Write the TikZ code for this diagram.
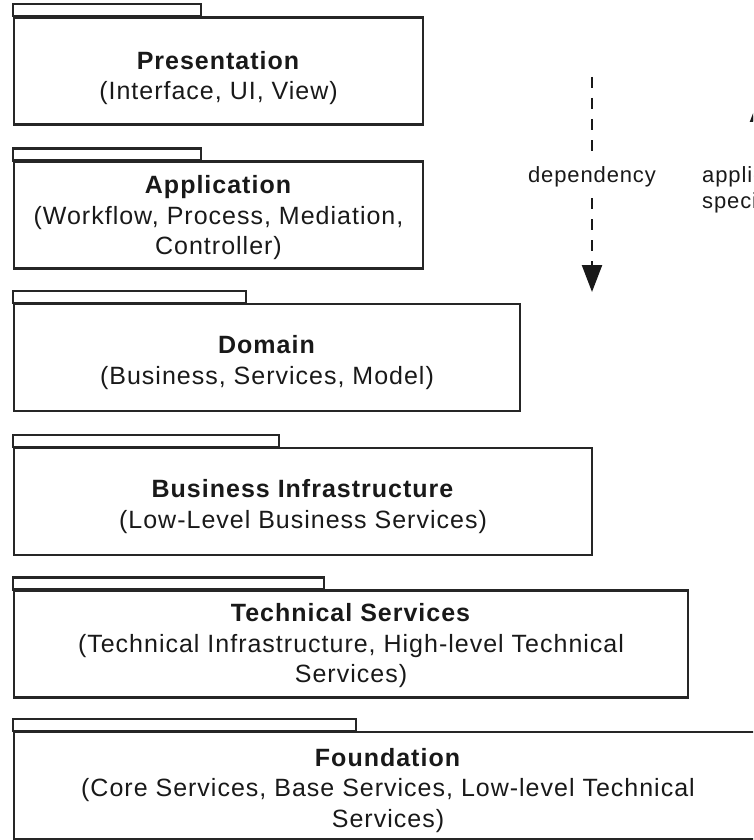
\documentclass[tikz,border=0pt]{standalone}
\usepackage{fontspec}
\setmainfont{Liberation Sans}[LetterSpace=4]
\usetikzlibrary{arrows.meta}

\tikzset{
	layer/.style={draw=black!85, line width=2.2pt, minimum height=107},
	layertext/.style={align=center, text=black!90, font=\fontsize{25}{30.5}\selectfont},
	tab/.style={draw=black!85, line width=2.2pt},
	note/.style={text=black!90, font=\fontsize{22}{26}\selectfont},
	depline/.style={black!90, line width=2.4pt, dash pattern=on 11pt off 10pt}
}

\begin{document}
\begin{tikzpicture}[x=1pt,y=-1pt]
	\useasboundingbox (0,0) rectangle (753,840);
	\clip (0,0) rectangle (753,840);
	% the layers
	\node[layer, minimum width=409] (Pres) at (218.5,71) {};
	\node[layer, minimum width=409] (Appl) at (218.5,215) {};
	\node[layer, minimum width=506] (Dom) at (267,357.5) {};
	\node[layer, minimum width=578] (BInf) at (303,501.5) {};
	\node[layer, minimum width=674] (TSrv) at (351,644) {};
	\node[layer, minimum width=748] (Found) at (388,785.5) {};
	% the tabs
	\draw[tab] (Pres.north west) rectangle ++(188,-12);
	\draw[tab] (Appl.north west) rectangle ++(188,-12);
	\draw[tab] (Dom.north west) rectangle ++(233,-12);
	\draw[tab] (BInf.north west) rectangle ++(266,-12);
	\draw[tab] (TSrv.north west) rectangle ++(311,-12);
	\draw[tab] (Found.north west) rectangle ++(343,-12);
	% the texts
	\node[layertext] (PresTxt) at ([yshift=-7pt]Pres) {\textbf{Presentation}\\(Interface, UI, View)};
	\node[layertext] (ApplTxt) at ([yshift=-3pt]Appl) {\textbf{Application}\\(Workflow, Process, Mediation,\\Controller)};
	\node[layertext] (DomTxt) at ([yshift=-5pt]Dom) {\textbf{Domain}\\(Business, Services, Model)};
	\node[layertext] (BInfTxt) at ([yshift=-5pt]BInf) {\textbf{Business Infrastructure}\\(Low-Level Business Services)};
	\node[layertext] (TSrvTxt) at ([yshift=-2pt]TSrv) {\textbf{Technical Services}\\(Technical Infrastructure, High-level Technical\\Services)};
	\node[layertext] (FoundTxt) at ([yshift=-5pt]Found) {\textbf{Foundation}\\(Core Services, Base Services, Low-level Technical\\Services)};
	% arrows on the right
	\node[note, minimum height=42, inner sep=0] (DepLbl) at (592,177) {dependency};
	\coordinate (DepTop) at (592,77);
	\coordinate (DepTip) at (592,292);
	\draw[depline] (DepTop) -- (DepLbl);
	\draw[depline, -{Triangle[width=20pt,length=27pt]}] (DepLbl) -- (DepTip);
	\node[note, anchor=west, align=left, inner sep=0] (AppLbl) at (702,190) {application\\specific};
	\coordinate (AppBot) at (760,300);
	\coordinate (AppTip) at (760,95);
	\draw[black!90, line width=2.2pt, -{Triangle[width=20pt,length=27pt]}] (AppBot) -- (AppTip);
\end{tikzpicture}
\end{document}
